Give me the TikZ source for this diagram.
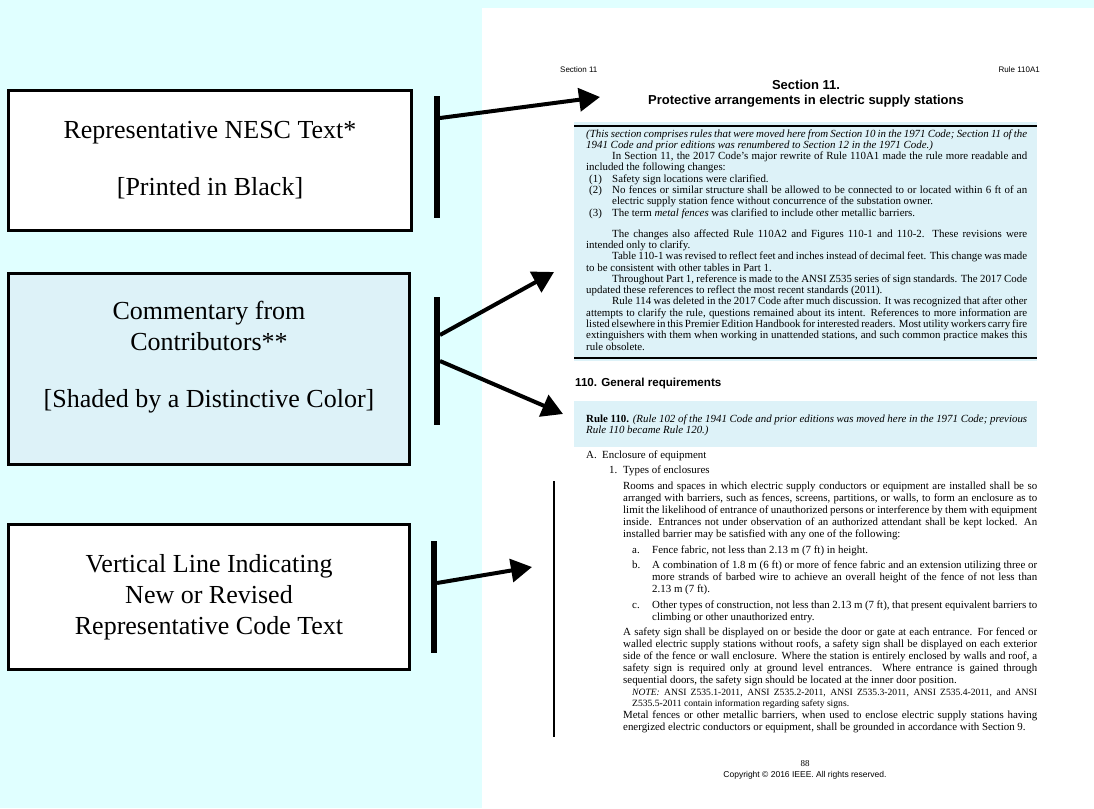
\documentclass[tikz,border=0pt]{standalone}
\usepackage{fontspec}
\setmainfont{Liberation Serif}
\newfontfamily\arialfont{Liberation Sans}
\usetikzlibrary{positioning,arrows.meta}

\definecolor{pagecyan}{RGB}{224,255,255}
\definecolor{cmtblue}{RGB}{221,242,248}

\newcommand{\boxfont}{\fontsize{26}{31}\selectfont}
\newcommand{\cmtfont}{\fontsize{10.9}{11.3}\selectfont}
\newcommand{\bodyfont}{\fontsize{10.9}{12}\selectfont}
\newcommand{\notefont}{\fontsize{9.6}{11}\selectfont}
\newcommand{\cmtindent}{\hspace*{26pt}}
\newcommand{\cmtitem}[1]{\hangindent=26pt\hangafter=1\makebox[26pt][l]{\hspace{3pt}#1}}

\begin{document}
\begin{tikzpicture}[
    x=1pt, y=-1pt,
    legend/.style={draw, fill=white, line width=3pt, align=center, font=\boxfont, inner sep=0pt},
    legendtext/.style={align=center, font=\boxfont, inner sep=0pt},
    bar/.style={line width=6pt},
    pointer/.style={-{Triangle[length=21pt,width=23pt]}, line width=4pt},
    para/.style={anchor=base west, inner sep=0pt, align=justify, font=\bodyfont},
    lbl/.style={anchor=base west, inner sep=0pt, font=\bodyfont},
    running/.style={inner sep=0pt, font=\arialfont\fontsize{8}{9}\selectfont}
]
\useasboundingbox (0,0) rectangle (1094,808);
\fill[pagecyan] (0,0) rectangle (1094,808);
\fill[white] (482,8) rectangle (1094,808);

\node[legend, minimum width=403pt, minimum height=140pt] (nesc) at (210,160.5)
    {Representative NESC Text*\\[26pt][Printed in Black]};
\node[legend, fill=cmtblue, minimum width=401pt, minimum height=191pt] (contrib) at (209,369) {};
\node[legendtext] (contribtext) at (209,357.5)
    {Commentary from\\Contributors**\\[26pt][Shaded by a Distinctive Color]};
\node[legend, minimum width=401pt, minimum height=145pt] (revised) at (209,597)
    {Vertical Line Indicating\\New or Revised\\Representative Code Text};

\node[running, anchor=base west] (runleft) at (560,73) {Section 11};
\node[running, anchor=base east] (runright) at (1040,73) {Rule 110A1};
\node[inner sep=0pt, anchor=north, align=center, font=\arialfont\bfseries\fontsize{13}{14.5}\selectfont] (sectitle) at (806,80)
    {Section 11.\\Protective arrangements in electric supply stations};

\fill[cmtblue] (574,122) rectangle (1037,361);
\draw[line width=2.5pt] (574,126) -- (1037,126);
\draw[line width=2.5pt] (574,358) -- (1037,358);
\node[para, font=\cmtfont, text width=441pt] (cmt) at (586,137) {%
\textit{(This section comprises rules that were moved here from Section 10 in the 1971 Code; Section 11 of the\linebreak 1941 Code and prior editions was renumbered to Section 12 in the 1971 Code.)}\par
\cmtindent In Section 11, the 2017 Code's major rewrite of Rule 110A1 made the rule more readable and\linebreak included the following changes:\par
\cmtitem{(1)}Safety sign locations were clarified.\par
\cmtitem{(2)}No fences or similar structure shall be allowed to be connected to or located within 6 ft of an\linebreak electric supply station fence without concurrence of the substation owner.\par
\cmtitem{(3)}The term \textit{metal fences} was clarified to include other metallic barriers.\par
\vspace{9.7pt}
\cmtindent The changes also affected Rule 110A2 and Figures 110-1 and 110-2. These revisions were\linebreak intended only to clarify.\par
\cmtindent Table 110-1 was revised to reflect feet and inches instead of decimal feet. This change was made\linebreak to be consistent with other tables in Part 1.\par
\cmtindent Throughout Part 1, reference is made to the ANSI Z535 series of sign standards. The 2017 Code\linebreak updated these references to reflect the most recent standards (2011).\par
\cmtindent Rule 114 was deleted in the 2017 Code after much discussion. It was recognized that after other\linebreak attempts to clarify the rule, questions remained about its intent. References to more information are\linebreak listed elsewhere in this Premier Edition Handbook for interested readers. Most utility workers carry fire\linebreak extinguishers with them when working in unattended stations, and such common practice makes this\linebreak rule obsolete.};

\node[anchor=base west, inner sep=0pt, font=\arialfont\bfseries\fontsize{11.6}{13}\selectfont] (general) at (575,386)
    {110. General requirements};

\fill[cmtblue] (574,401) rectangle (1037,447);
\node[para, font=\cmtfont, text width=441pt] (rule110) at (586,422)
    {\textbf{Rule 110.} \textit{(Rule 102 of the 1941 Code and prior editions was moved here in the 1971 Code; previous\linebreak Rule 110 became Rule 120.)}};

\node[lbl] (partA) at (586,458) {A.};
\node[lbl] (partAtext) at (602,458) {Enclosure of equipment};
\node[lbl] (part1) at (609,473) {1.};
\node[lbl] (part1text) at (623,473) {Types of enclosures};
\node[para, text width=414pt] (rooms) at (623,489)
    {Rooms and spaces in which electric supply conductors or equipment are installed shall be so\linebreak arranged with barriers, such as fences, screens, partitions, or walls, to form an enclosure as to\linebreak limit the likelihood of entrance of unauthorized persons or interference by them with equipment\linebreak inside. Entrances not under observation of an authorized attendant shall be kept locked. An\linebreak installed barrier may be satisfied with any one of the following:};
\node[lbl] (itema) at (632,553) {a.};
\node[para, text width=385pt] (itematext) at (652,553)
    {Fence fabric, not less than 2.13 m (7 ft) in height.};
\node[lbl] (itemb) at (632,568) {b.};
\node[para, text width=385pt] (itembtext) at (652,568)
    {A combination of 1.8 m (6 ft) or more of fence fabric and an extension utilizing three or\linebreak more strands of barbed wire to achieve an overall height of the fence of not less than\linebreak 2.13 m (7 ft).};
\node[lbl] (itemc) at (632,608) {c.};
\node[para, text width=385pt] (itemctext) at (652,608)
    {Other types of construction, not less than 2.13 m (7 ft), that present equivalent barriers to\linebreak climbing or other unauthorized entry.};
\node[para, text width=414pt] (signs) at (623,635)
    {A safety sign shall be displayed on or beside the door or gate at each entrance. For fenced or\linebreak walled electric supply stations without roofs, a safety sign shall be displayed on each exterior\linebreak side of the fence or wall enclosure. Where the station is entirely enclosed by walls and roof, a\linebreak safety sign is required only at ground level entrances. Where entrance is gained through\linebreak sequential doors, the safety sign should be located at the inner door position.};
\node[para, font=\notefont, text width=405pt] (note) at (632,695)
    {\textit{NOTE:} ANSI Z535.1-2011, ANSI Z535.2-2011, ANSI Z535.3-2011, ANSI Z535.4-2011, and ANSI\linebreak Z535.5-2011 contain information regarding safety signs.};
\node[para, text width=414pt] (metal) at (623,718)
    {Metal fences or other metallic barriers, when used to enclose electric supply stations having\linebreak energized electric conductors or equipment, shall be grounded in accordance with Section 9.};

\node[anchor=base, inner sep=0pt, font=\fontsize{9}{10}\selectfont] (pageno) at (805,766) {88};
\node[anchor=base, inner sep=0pt, font=\arialfont\fontsize{8.5}{10}\selectfont] (copyright) at (805,777)
    {Copyright © 2016 IEEE. All rights reserved.};

\coordinate (revtop) at (554,481);
\coordinate (revbot) at (554,737);
\draw[line width=2pt] (revtop) -- (revbot);

\coordinate (bar1top) at (437,96);
\coordinate (bar1bot) at (437,218);
\coordinate (bar2top) at (437,297);
\coordinate (bar2bot) at (437,425);
\coordinate (bar3top) at (434,541);
\coordinate (bar3bot) at (434,653);
\draw[bar] (bar1top) -- (bar1bot);
\draw[bar] (bar2top) -- (bar2bot);
\draw[bar] (bar3top) -- (bar3bot);

\coordinate (from1) at (440,118);
\coordinate (to1) at (600,97);
\coordinate (from2a) at (440,335);
\coordinate (to2a) at (554,272);
\coordinate (from2b) at (440,361);
\coordinate (to2b) at (563,414);
\coordinate (from3) at (437,583);
\coordinate (to3) at (532,567);
\draw[pointer] (from1) -- (to1);
\draw[pointer] (from2a) -- (to2a);
\draw[pointer] (from2b) -- (to2b);
\draw[pointer] (from3) -- (to3);
\end{tikzpicture}
\end{document}
